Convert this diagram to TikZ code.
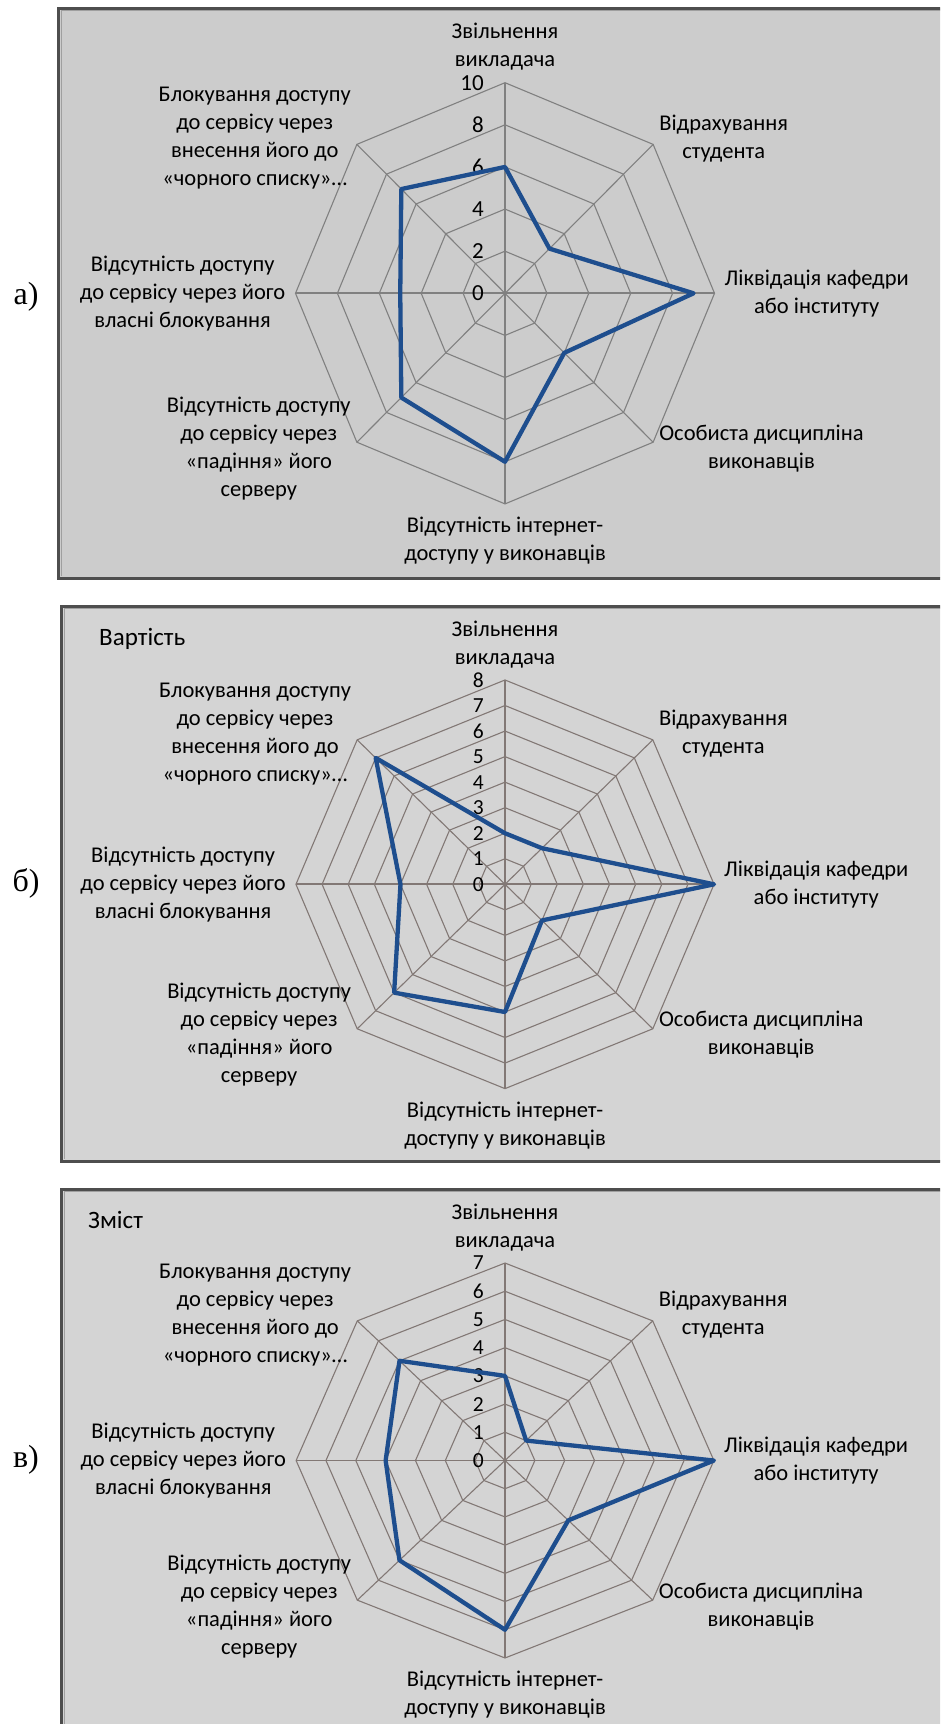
\documentclass[tikz,border=0pt]{standalone}
\usepackage{fontspec}
\setmainfont{Carlito}
\newfontfamily\tagfont{Liberation Serif}

\definecolor{panelA}{RGB}{204,204,204}
\definecolor{panelB}{RGB}{212,212,212}
\definecolor{framegray}{RGB}{78,78,78}
\definecolor{gridgray}{RGB}{128,128,128}
\definecolor{gridbrown}{RGB}{130,120,117}
\definecolor{seriesblue}{RGB}{30,78,142}

\tikzset{
  panel/.style={draw=framegray, line width=3pt},
  panelrim/.style={draw=gray!75, line width=0.8pt},
  ring/.style={line width=1.1pt},
  spoke/.style={line width=1.1pt},
  axisline/.style={line width=1.8pt},
  series/.style={draw=seriesblue, line width=4.3pt, line join=round},
  catlabel/.style={font=\fontsize{22.5}{28}\selectfont, align=center, inner sep=0pt},
  numlabel/.style={inner sep=0pt, anchor=east},
  paneltag/.style={font=\tagfont\fontsize{32}{34}\selectfont, inner sep=0pt},
  charttitle/.style={font=\fontsize{25}{28}\selectfont, inner sep=0pt, anchor=base west},
}

\begin{document}
\begin{tikzpicture}[x=1pt, y=-1pt]
  \clip (0,0) rectangle (940,1724);

  % panels
  \draw[panel, fill=panelA] (58.5,8) rectangle (960,578);
  \draw[panel, fill=panelB] (61.5,606) rectangle (960,1161.5);
  \draw[panel, fill=panelB] (61.5,1189) rectangle (960,1760);
  \draw[panelrim] (61,10.5) -- (961,10.5) (61,10.5) -- (61,575.5);
  \draw[panelrim] (64,608.5) -- (961,608.5) (64,608.5) -- (64,1159);
  \draw[panelrim] (64,1191.5) -- (961,1191.5) (64,1191.5) -- (64,1724);

  \foreach \c/\cy/\ux/\uy/\top/\stp/\nr/\nfs/\vals/\grid in {
      a/293.3/20.95/21.06/10/2/5/23/{6,3,9,4,8,7,5,7}/gridgray,
      b/884.3/26.13/25.54/8/1/8/21.5/{2,2,8,2,5,6,4,7}/gridbrown,
      c/1460.5/29.84/28.21/7/1/7/21.5/{3,1,7,3,6,5,4,5}/gridbrown}{
    \begin{scope}[shift={(505,\cy)}, x=\ux pt, y=\uy pt]
      \foreach \k in {1,...,\nr}{
        \pgfmathtruncatemacro\r{\k*\stp}
        \draw[ring, draw=\grid] (90:\r) -- (45:\r) -- (0:\r) -- (-45:\r)
          -- (-90:\r) -- (-135:\r) -- (180:\r) -- (135:\r) -- cycle;
      }
      \foreach \i in {0,...,7}
        \draw[spoke, draw=\grid] (0,0) -- (90-45*\i:\top) coordinate (\c-v\i);
      \draw[axisline, draw=\grid] (\c-v6) -- (\c-v2);

      \foreach \k in {0,...,\nr}{
        \pgfmathtruncatemacro\r{\k*\stp}
        \node[numlabel, font=\fontsize{\nfs}{\nfs}\selectfont, xshift=-21pt] (\c-n\k) at (0,\r) {\r};
      }

      \foreach \v [count=\i from 0] in \vals
        \coordinate (\c-p\i) at (90-45*\i:\v);
      \draw[series] (\c-p0) -- (\c-p1) -- (\c-p2) -- (\c-p3) -- (\c-p4)
        -- (\c-p5) -- (\c-p6) -- (\c-p7) -- cycle;
    \end{scope}

    \node[catlabel, anchor=south, yshift=12pt] (\c-l0) at (\c-v0) {Звільнення\\викладача};
    \node[catlabel, anchor=west, xshift=6pt, yshift=6pt] (\c-l1) at (\c-v1) {Відрахування\\студента};
    \node[catlabel, anchor=west, xshift=10pt] (\c-l2) at (\c-v2) {Ліквідація кафедри\\або інституту};
    \node[catlabel, anchor=west, xshift=6pt, yshift=-6pt] (\c-l3) at (\c-v3) {Особиста дисципліна\\виконавців};
    \node[catlabel, anchor=north, yshift=-13pt] (\c-l4) at (\c-v4) {Відсутність інтернет-\\доступу у виконавців};
    \node[catlabel, anchor=east, xshift=-6pt, yshift=-6pt] (\c-l5) at (\c-v5) {Відсутність доступу\\до сервісу через\\«падіння» його\\серверу};
    \node[catlabel, anchor=east, xshift=-10pt] (\c-l6) at (\c-v6) {Відсутність доступу\\до сервісу через його\\власні блокування};
    \node[catlabel, anchor=east, xshift=-6pt, yshift=6pt] (\c-l7) at (\c-v7) {Блокування доступу\\до сервісу через\\внесення його до\\«чорного списку»…};
  }

  % chart titles and panel tags
  \node[charttitle] (title-b) at (99,645) {Вартість};
  \node[charttitle] (title-c) at (88,1228) {Зміст};
  \node[paneltag] (tag-a) at (26,297) {а)};
  \node[paneltag] (tag-b) at (26,883) {б)};
  \node[paneltag] (tag-c) at (26,1460) {в)};
\end{tikzpicture}
\end{document}
